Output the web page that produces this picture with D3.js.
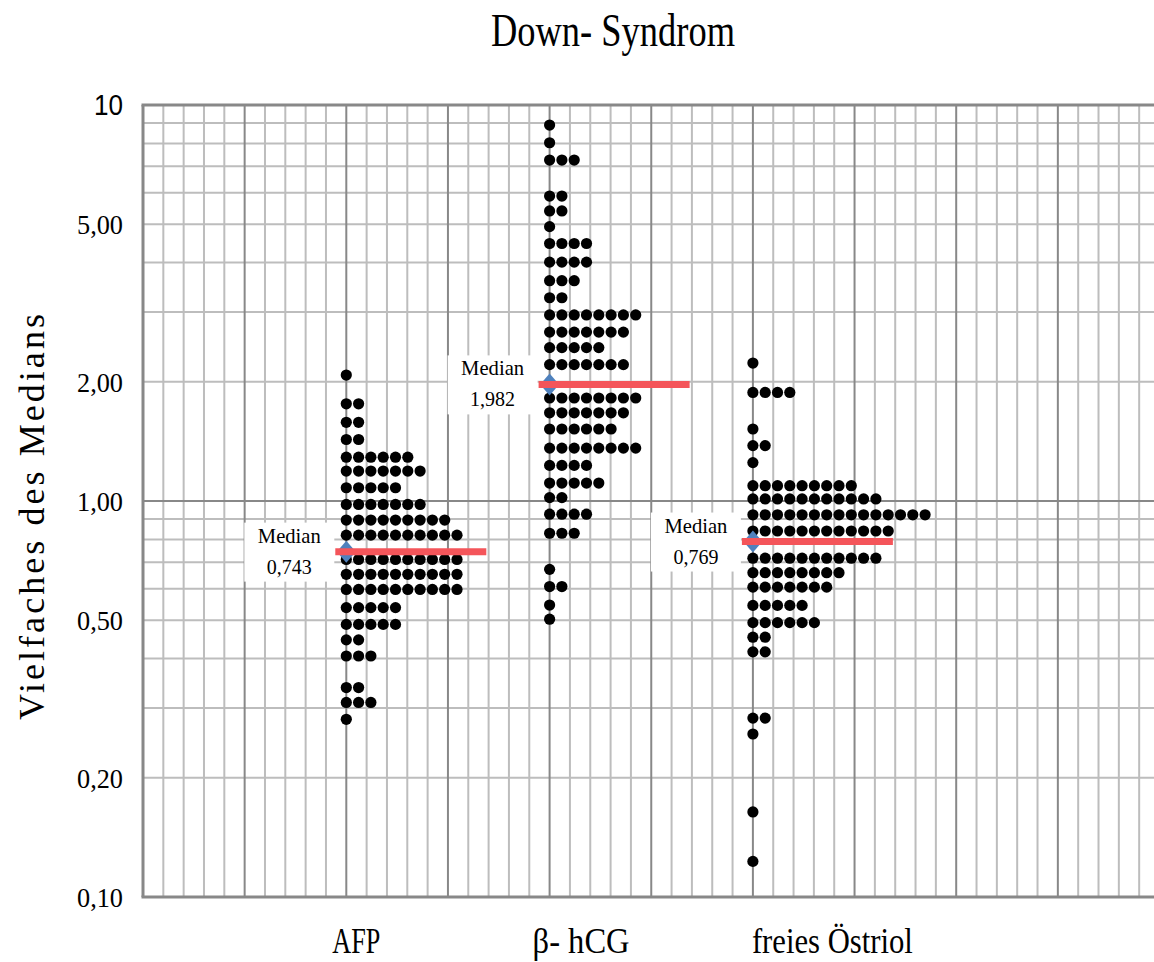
<!DOCTYPE html>
<html>
<head>
<meta charset="UTF-8">
<title>Down- Syndrom</title>
<script src="https://d3js.org/d3.v7.min.js"></script>
<style>
  body { margin: 0; background: #fff; }
  text { font-family: "Liberation Serif", "Times New Roman", serif; fill: #000; }
</style>
</head>
<body>
<div id="chart"></div>
<script>
// categories (x axis)
var categories = ["AFP", "β- hCG", "freies Östriol"];

// dot rows: value (MoM) and number of cases in that row
var afpValues = [2.08, 1.76, 1.58, 1.43, 1.29, 1.19, 1.08, 0.98, 0.895, 0.82,
                 0.712, 0.653, 0.598, 0.538, 0.488, 0.446, 0.406, 0.338, 0.31, 0.281];
var afpCounts = [1, 2, 2, 2, 6, 7, 5, 7, 9, 10, 10, 10, 10, 5, 5, 2, 3, 2, 3, 1];

var hcgValues = [8.9, 8.03, 7.26, 5.89, 5.4, 4.93, 4.47, 4.01, 3.6, 3.26, 2.95, 2.67, 2.44, 2.21,
                 1.82, 1.67, 1.52, 1.36, 1.23, 1.11, 1.02, 0.926, 0.829, 0.672, 0.608, 0.546, 0.503];
var hcgCounts = [1, 1, 3, 2, 2, 1, 4, 4, 3, 2, 8, 7, 5, 7,
                 8, 7, 6, 8, 4, 5, 2, 4, 3, 1, 2, 1, 1];

var oesValues = [2.23, 1.88, 1.52, 1.38, 1.25, 1.093, 1.012, 0.923, 0.84, 0.717, 0.659, 0.606,
                 0.545, 0.493, 0.453, 0.416, 0.283, 0.258, 0.164, 0.123];
var oesCounts = [1, 4, 1, 2, 1, 9, 11, 15, 12, 11, 8, 7, 5, 6, 2, 2, 2, 1, 1, 1];

// medians: where they are drawn, and their labels
var medianValues = [0.745, 1.97, 0.79];
var medianLabels = ["0,743", "1,982", "0,769"];

// y axis ticks
var yTickValues = [0.1, 0.2, 0.5, 1, 2, 5, 10];
var yTickLabels = ["0,10", "0,20", "0,50", "1,00", "2,00", "5,00", "10"];

var W = 1154, H = 962;
var margin = {top: 105, left: 143, bottom: 65};

var svg = d3.select("#chart").append("svg")
  .attr("width", W).attr("height", H);

var x = d3.scaleLinear().domain([0, 5]).range([margin.left, margin.left + 1016.5]);
var y = d3.scaleLog().domain([0.1, 10]).range([H - margin.bottom, margin.top]);

var dotStep = 0.0605;

// ---- grid ----
var grid = svg.append("g");
var hLines = [];
[0.1, 1].forEach(function(d) { for (var k = 2; k <= 9; k++) hLines.push(d * k); });

grid.selectAll(".hminor").data(hLines).join("line")
  .attr("x1", x(0)).attr("x2", W)
  .attr("y1", function(d) { return y(d); }).attr("y2", function(d) { return y(d); })
  .attr("stroke", "#bdbdbd").attr("stroke-width", 2);

var vLines = d3.range(1, 50).filter(function(i) { return i % 5 !== 0; });
grid.selectAll(".vminor").data(vLines).join("line")
  .attr("x1", function(d) { return x(d / 10); }).attr("x2", function(d) { return x(d / 10); })
  .attr("y1", y(10)).attr("y2", y(0.1))
  .attr("stroke", "#bdbdbd").attr("stroke-width", 2);

grid.selectAll(".vmajor").data(d3.range(5, 50, 5)).join("line")
  .attr("x1", function(d) { return x(d / 10); }).attr("x2", function(d) { return x(d / 10); })
  .attr("y1", y(10)).attr("y2", y(0.1))
  .attr("stroke", "#888").attr("stroke-width", 2);

grid.append("line")
  .attr("x1", x(0)).attr("x2", W).attr("y1", y(1)).attr("y2", y(1))
  .attr("stroke", "#888").attr("stroke-width", 2);

// frame
grid.append("line").attr("x1", x(0) - 1.5).attr("x2", W).attr("y1", y(10)).attr("y2", y(10))
  .attr("stroke", "#888").attr("stroke-width", 3);
grid.append("line").attr("x1", x(0) - 1.5).attr("x2", W).attr("y1", y(0.1)).attr("y2", y(0.1))
  .attr("stroke", "#888").attr("stroke-width", 3);
grid.append("line").attr("x1", x(0)).attr("x2", x(0)).attr("y1", y(10)).attr("y2", y(0.1))
  .attr("stroke", "#888").attr("stroke-width", 3);

// ---- dots ----
var series = [
  {values: afpValues, counts: afpCounts},
  {values: hcgValues, counts: hcgCounts},
  {values: oesValues, counts: oesCounts}
];
var dots = [];
series.forEach(function(s, i) {
  s.values.forEach(function(v, r) {
    d3.range(s.counts[r]).forEach(function(k) {
      dots.push({x: i + 1 + k * dotStep, v: v});
    });
  });
});

svg.append("g").selectAll("circle").data(dots).join("circle")
  .attr("cx", function(d) { return x(d.x); })
  .attr("cy", function(d) { return y(d.v); })
  .attr("r", 5.6)
  .attr("fill", "#000");

// ---- medians ----
var med = svg.append("g");
medianValues.forEach(function(m, i) {
  var cx = x(i + 1), cy = y(m);
  med.append("path")
    .attr("d", "M" + cx + "," + (cy - 11) + "L" + (cx + 9.5) + "," + cy +
               "L" + cx + "," + (cy + 11) + "L" + (cx - 9.5) + "," + cy + "Z")
    .attr("fill", "#4f81bd");
  med.append("line")
    .attr("x1", cx - 11).attr("x2", cx + 140)
    .attr("y1", cy).attr("y2", cy)
    .attr("stroke", "#f4555a").attr("stroke-width", 7);
  med.append("rect")
    .attr("x", cx - 102).attr("y", cy - 29)
    .attr("width", 90).attr("height", 59)
    .attr("fill", "#fff");
  med.append("text")
    .attr("x", cx - 57).attr("y", cy - 9)
    .attr("text-anchor", "middle").attr("font-size", 22)
    .attr("textLength", 63).attr("lengthAdjust", "spacingAndGlyphs")
    .text("Median");
  med.append("text")
    .attr("x", cx - 57).attr("y", cy + 22)
    .attr("text-anchor", "middle").attr("font-size", 22)
    .attr("textLength", 45).attr("lengthAdjust", "spacingAndGlyphs")
    .text(medianLabels[i]);
});

// ---- y tick labels ----
svg.append("g").selectAll("text").data(yTickValues).join("text")
  .attr("transform", function(d) { return "translate(123," + y(d) + ")"; })
  .attr("dy", "0.35em")
  .attr("text-anchor", "end")
  .style("font-family", function(d, i) { return d === 10 ? "'Liberation Sans', Arial, sans-serif" : null; })
  .attr("font-size", function(d) { return d === 10 ? 29 : 28; })
  .attr("textLength", function(d) { return d === 10 ? 29 : 46; })
  .attr("lengthAdjust", "spacingAndGlyphs")
  .text(function(d, i) { return yTickLabels[i]; });

// ---- category labels ----
var catShift = [-14, -17, -1];
var catWidth = [48, 97, 161];
svg.append("g").selectAll("text").data(categories).join("text")
  .attr("x", function(d, i) { return x(i + 1) + catShift[i]; })
  .attr("y", 953)
  .attr("font-size", 35)
  .attr("textLength", function(d, i) { return catWidth[i]; })
  .attr("lengthAdjust", "spacingAndGlyphs")
  .text(function(d) { return d; });

// ---- title ----
svg.append("text")
  .attr("x", 491).attr("y", 46)
  .attr("font-size", 47)
  .attr("textLength", 244)
  .attr("lengthAdjust", "spacingAndGlyphs")
  .text("Down- Syndrom");

// ---- y axis title ----
svg.append("text")
  .attr("transform", "translate(44,720) rotate(-90)")
  .attr("font-size", 36)
  .attr("textLength", 406)
  .attr("lengthAdjust", "spacing")
  .text("Vielfaches des Medians");
</script>
</body>
</html>
